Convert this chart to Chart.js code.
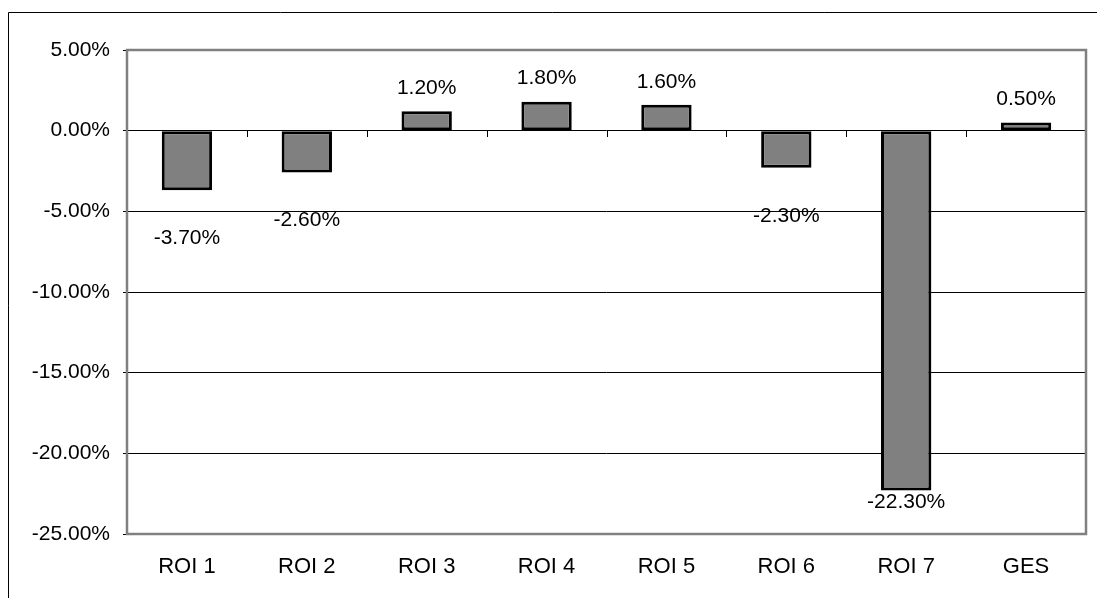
<!DOCTYPE html>
<html>
<head>
<meta charset="utf-8">
<script src="https://cdn.jsdelivr.net/npm/chart.js@4/dist/chart.umd.min.js"></script>
<style>
  html, body { margin: 0; padding: 0; background: #fff; }
  #wrap { position: relative; width: 1097px; height: 598px; }
  canvas { display: block; }
</style>
</head>
<body>
<div id="wrap"><canvas id="c" width="1097" height="598"></canvas></div>
<script>
// Change per region (percent)
const categories = ['ROI 1', 'ROI 2', 'ROI 3', 'ROI 4', 'ROI 5', 'ROI 6', 'ROI 7', 'GES'];
const values = [-3.7, -2.6, 1.2, 1.8, 1.6, -2.3, -22.3, 0.5];
const yMin = -25;
const yMax = 5;
const yStep = 5;

const FONT = '"Liberation Sans", Arial, sans-serif';
const FONT_SIZE = 21;
const pct = v => v.toFixed(2) + '%';

// Outer frame, plot border, zero-line category ticks and value labels
const decorations = {
  id: 'decorations',
  beforeDraw(chart) {
    const ctx = chart.ctx;
    ctx.save();
    ctx.fillStyle = '#fff';
    ctx.fillRect(0, 0, chart.width, chart.height);
    ctx.strokeStyle = '#000';
    ctx.lineWidth = 1;
    ctx.beginPath();
    ctx.moveTo(8.5, chart.height);
    ctx.lineTo(8.5, 12.5);
    ctx.lineTo(chart.width, 12.5);
    ctx.stroke();
    ctx.restore();
  },
  afterDatasetsDraw(chart) {
    const ctx = chart.ctx;
    const area = chart.chartArea;
    const xs = chart.scales.x;
    const ys = chart.scales.y;
    const y0 = ys.getPixelForValue(0);
    ctx.save();
    // category separators on the zero line
    ctx.strokeStyle = '#000';
    ctx.lineWidth = 1;
    ctx.beginPath();
    for (let i = 0; i <= categories.length; i++) {
      let x;
      if (i === 0) x = area.left;
      else if (i === categories.length) x = area.right;
      else x = (xs.getPixelForValue(i - 1) + xs.getPixelForValue(i)) / 2;
      x = Math.round(x) + 0.5;
      ctx.moveTo(x, Math.round(y0));
      ctx.lineTo(x, Math.round(y0) + 6);
    }
    ctx.stroke();
    // plot area border
    ctx.strokeStyle = '#808080';
    ctx.lineWidth = 2.5;
    ctx.strokeRect(area.left, area.top, area.right - area.left, area.bottom - area.top);
    // value labels
    ctx.fillStyle = '#000';
    ctx.font = FONT_SIZE + 'px ' + FONT;
    ctx.textAlign = 'center';
    ctx.textBaseline = 'middle';
    const meta = chart.getDatasetMeta(0);
    meta.data.forEach((bar, i) => {
      const v = values[i];
      let y;
      if (v >= 0) y = bar.y - 23;
      else y = Math.min(bar.y + 48, area.bottom - 32);
      ctx.fillText(pct(v), bar.x, y);
    });
    ctx.restore();
  }
};

new Chart(document.getElementById('c'), {
  type: 'bar',
  data: {
    labels: categories,
    datasets: [{
      data: values,
      backgroundColor: '#808080',
      borderColor: '#000',
      borderWidth: 3,
      borderSkipped: false,
      barPercentage: 0.42,
      categoryPercentage: 1.0
    }]
  },
  options: {
    responsive: false,
    animation: false,
    devicePixelRatio: 1,
    layout: { padding: { left: 0, right: 11, top: 50, bottom: 0 } },
    plugins: {
      legend: { display: false },
      tooltip: { enabled: false },
      title: { display: false }
    },
    scales: {
      x: {
        grid: { display: false, drawTicks: false },
        border: { display: false },
        ticks: {
          color: '#000',
          font: { family: FONT, size: 22 },
          padding: 20,
          maxRotation: 0
        },
        afterFit(axis) { axis.height = 64; }
      },
      y: {
        min: yMin,
        max: yMax,
        grid: {
          color: '#000',
          lineWidth: 1,
          tickLength: 4,
          drawTicks: true
        },
        border: { display: false },
        ticks: {
          stepSize: yStep,
          color: '#000',
          font: { family: FONT, size: FONT_SIZE },
          padding: 13,
          callback: v => pct(v)
        },
        afterFit(axis) { axis.width = 127; }
      }
    }
  },
  plugins: [decorations]
});
</script>
</body>
</html>
